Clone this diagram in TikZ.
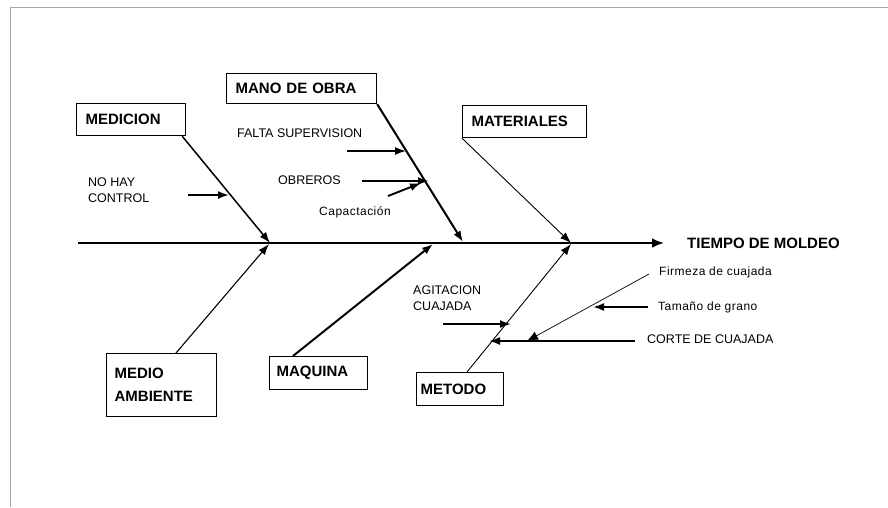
\documentclass[tikz,border=0pt]{standalone}
\usepackage{fontspec}
\setmainfont{Liberation Sans}
\usetikzlibrary{arrows.meta,calc}
\tikzset{
  cbox/.style={draw=black, line width=1.2pt, fill=white, align=left, anchor=north west, inner ysep=0pt, font=\fontsize{15}{23}\selectfont\bfseries},
  lbl/.style={anchor=west, inner sep=0pt, align=left, font=\fontsize{12.5}{16.5}\selectfont},
  lbls/.style={anchor=west, inner sep=0pt, align=left, font=\fontsize{12}{16}\selectfont\addfontfeature{LetterSpace=4}},
  ttl/.style={anchor=west, inner sep=0pt, font=\fontsize{15}{17}\selectfont\bfseries},
  tip/.style={-{Latex[length=11pt,width=8pt]}},
  spine/.style={line width=2.4pt, -{Latex[length=12pt,width=10pt]}},
  bonethick/.style={line width=2pt, tip},
  bonemed/.style={line width=1.5pt, tip},
  bonethin/.style={line width=0.9pt, tip},
  sub/.style={line width=1.9pt, tip},
  frame/.style={draw=gray!70, line width=1pt}
}
\begin{document}
\begin{tikzpicture}[x=1pt,y=-1pt]
\useasboundingbox (0,0) rectangle (888,507);
\fill[white] (0,0) rectangle (888,507);
% frame (top and left)
\coordinate (f0) at (10,507);
\coordinate (f1) at (10,7);
\coordinate (f2) at (888,7);
\draw[frame] (f0) -- (f1) -- (f2);

% boxes
\node[cbox, minimum width=109pt, minimum height=32pt, text width=91pt, inner xsep=9pt] (med) at (76,103) {MEDICION};
\node[cbox, minimum width=150pt, minimum height=30pt, text width=132pt, inner xsep=9pt] (mano) at (226,73) {MANO DE OBRA};
\node[cbox, minimum width=124pt, minimum height=32pt, text width=106pt, inner xsep=9pt] (mat) at (462,105) {MATERIALES};
\node[cbox, minimum width=110pt, minimum height=63pt, text width=94pt, inner xsep=8pt] (amb) at (106,353) {MEDIO\\AMBIENTE};
\node[cbox, minimum width=98pt, minimum height=33pt, text width=84pt, inner xsep=7pt] (maq) at (269,356) {MAQUINA};
\node[cbox, minimum width=87pt, minimum height=33pt, text width=79pt, inner xsep=4pt] (met) at (416,372) {METODO};

% spine
\coordinate (s0) at (78,243);
\coordinate (s1) at (664,243);
\draw[spine] (s0) -- (s1);
\node[ttl] (eff) at (687,243) {TIEMPO DE MOLDEO};

% junctions
\coordinate (j1) at (270,243);
\coordinate (j1b) at (269,244);
\coordinate (j2) at (463,242);
\coordinate (j3) at (433,244);
\coordinate (j4) at (571,243);
\coordinate (j4b) at (571,244);

% main bones
\draw[bonemed] ($(med.south east)+(-4,0)$) -- (j1);
\draw[bonethin, line width=1.1pt] ($(amb.north west)+(70,0)$) -- (j1b);
\draw[bonethick] (mano.south east) -- (j2);
\draw[bonethick] ($(maq.north west)+(24,0)$) -- (j3);
\draw[bonethin] (mat.south west) -- (j4);
\draw[bonethin] ($(met.north west)+(51,0)$) -- (j4b);

% sub-causes: MEDICION
\node[lbl] (nohay) at (88,190) {NO HAY\\CONTROL};
\coordinate (a1s) at (188,195);
\coordinate (a1e) at (229,195);
\draw[sub] (a1s) -- (a1e);

% MANO DE OBRA
\node[lbl] (falta) at (237,133) {FALTA SUPERVISION};
\coordinate (a2s) at (347,151);
\coordinate (a2e) at (406,151);
\draw[sub, line width=1.5pt] (a2s) -- (a2e);

\node[lbl] (obr) at (278,180) {OBREROS};
\coordinate (a3s) at (362,181);
\coordinate (a3e) at (429,181);
\draw[sub, line width=2.2pt] (a3s) -- (a3e);

\node[lbls] (cap) at (319,212) {Capactación};
\coordinate (a4s) at (388,196);
\coordinate (a4e) at (421,183);
\draw[sub] (a4s) -- (a4e);

% METODO
\node[lbl] (agi) at (413,298) {AGITACION\\CUAJADA};
\coordinate (a5s) at (443,324);
\coordinate (a5e) at (511,324);
\draw[sub] (a5s) -- (a5e);

\node[lbl] (corte) at (647,339) {CORTE DE CUAJADA};
\coordinate (a6s) at (635,341);
\coordinate (a6e) at (489,341);
\draw[sub] (a6s) -- (a6e);

\node[lbls] (firm) at (659,272) {Firmeza de cuajada};
\coordinate (a7s) at (649,274);
\coordinate (a7e) at (527,341);
\draw[line width=0.7pt, -{Latex[length=11pt,width=9pt]}] (a7s) -- (a7e);

\node[lbls] (tam) at (658,307) {Tamaño de grano};
\coordinate (a8s) at (648,307);
\coordinate (a8e) at (593,307);
\draw[sub] (a8s) -- (a8e);
\end{tikzpicture}
\end{document}
